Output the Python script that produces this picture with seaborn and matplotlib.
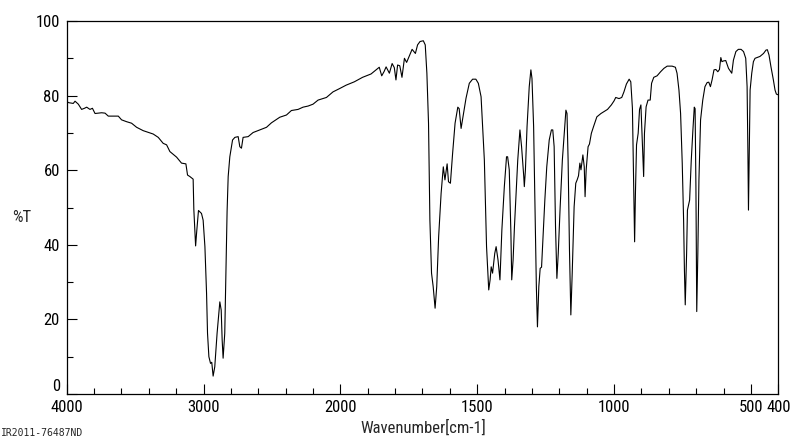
import numpy as np
import pandas as pd
import matplotlib
matplotlib.use("Agg")
import matplotlib.pyplot as plt
from matplotlib import font_manager as fm
import seaborn as sns

wavenumber = [
    4000, 3985, 3952, 3939, 3915, 3891, 3870, 3854, 3830, 3812, 3793, 3765, 3745, 3720,
    3696, 3623, 3599, 3562, 3526, 3489, 3441, 3368, 3331, 3295, 3270, 3246, 3197, 3161,
    3129, 3117, 3100, 3076, 3071, 3058, 3051, 3037, 3015, 3003, 2990, 2978, 2971, 2961,
    2949, 2940, 2930, 2918, 2901, 2881, 2871, 2864, 2857, 2845, 2837, 2828, 2820, 2808,
    2788, 2771, 2747, 2735, 2723, 2711, 2674, 2638, 2589, 2540, 2504, 2443, 2394, 2358,
    2309, 2273, 2236, 2200, 2163, 2102, 2054, 2005, 1979, 1949, 1919, 1888, 1870, 1858,
    1849, 1840, 1833, 1821, 1811, 1803, 1797, 1791, 1783, 1775, 1766, 1758, 1738, 1726,
    1718, 1709, 1697, 1690, 1684, 1678, 1673, 1667, 1661, 1654, 1648, 1641, 1632, 1624,
    1618, 1610, 1605, 1598, 1590, 1581, 1571, 1566, 1559, 1551, 1541, 1529, 1517, 1505,
    1496, 1486, 1474, 1466, 1458, 1453, 1449, 1444, 1436, 1431, 1424, 1417, 1410, 1401,
    1393, 1389, 1383, 1377, 1374, 1369, 1364, 1358, 1352, 1344, 1338, 1330, 1328, 1324,
    1318, 1310, 1304, 1300, 1294, 1289, 1284, 1280, 1275, 1270, 1265, 1259, 1253, 1246,
    1237, 1229, 1224, 1219, 1214, 1209, 1204, 1197, 1189, 1182, 1176, 1172, 1168, 1163,
    1158, 1153, 1146, 1140, 1135, 1130, 1125, 1121, 1114, 1109, 1106, 1102, 1095, 1090,
    1083, 1075, 1063, 1048, 1024, 1010, 1000, 994, 982, 972, 964, 955, 945, 939,
    933, 928, 925, 922, 918, 912, 907, 902, 897, 892, 889, 883, 876, 868,
    863, 855, 843, 830, 818, 806, 788, 776, 770, 763, 757, 751, 746, 743,
    740, 735, 732, 724, 718, 712, 707, 704, 701, 698, 694, 690, 684, 676,
    668, 660, 654, 648, 642, 635, 628, 621, 615, 610, 606, 600, 592, 582,
    570, 564, 555, 546, 536, 527, 519, 514, 511, 509, 506, 503, 497, 491,
    485, 467, 454, 445, 440, 434, 427, 418, 412, 407, 400,
]
transmittance = [
    78.4, 78.1, 77.9, 78.5, 77.7, 76.3, 76.6, 76.9, 76.3, 76.6, 75.2, 75.3, 75.4, 75.3,
    74.5, 74.5, 73.5, 73.0, 72.6, 71.5, 70.6, 69.7, 68.8, 67.2, 66.8, 65.0, 63.5, 61.9,
    61.7, 58.7, 58.3, 57.6, 49.5, 39.7, 43.1, 49.2, 48.4, 46.6, 39.5, 27.0, 16.3, 10.0,
    8.2, 8.5, 4.8, 7.3, 16.3, 24.7, 22.5, 14.5, 9.6, 16.3, 32.4, 48.9, 58.3, 63.6,
    68.1, 68.8, 69.0, 66.3, 65.9, 68.8, 69.0, 70.1, 70.8, 71.5, 72.7, 74.2, 74.8, 76.0,
    76.3, 76.9, 77.2, 77.7, 78.8, 79.5, 81.0, 81.9, 82.8, 83.7, 84.9, 85.8, 86.9, 87.6,
    85.3, 86.5, 87.7, 86.0, 88.6, 87.5, 84.2, 88.2, 88.0, 84.9, 90.0, 88.9, 92.4, 91.3,
    93.6, 94.5, 94.7, 93.6, 86.0, 72.6, 46.6, 32.4, 28.8, 23.0, 28.8, 42.2, 53.8, 60.9,
    57.4, 61.7, 56.9, 56.5, 64.5, 72.6, 76.9, 76.5, 71.2, 74.8, 79.3, 83.3, 84.4, 84.4,
    83.3, 79.7, 62.7, 39.5, 27.9, 30.6, 34.1, 32.4, 37.7, 39.5, 35.9, 30.6, 44.0, 55.6,
    63.6, 63.6, 60.1, 43.1, 30.6, 35.9, 44.9, 53.8, 62.7, 70.8, 66.3, 58.3, 55.6, 60.0,
    71.7, 82.4, 86.9, 84.6, 71.7, 50.2, 28.8, 18.0, 28.8, 33.7, 34.0, 43.1, 52.0, 60.9,
    68.1, 70.8, 70.8, 66.3, 44.9, 31.0, 37.7, 50.2, 62.7, 69.9, 76.1, 75.2, 62.7, 38.6,
    21.2, 32.4, 50.2, 56.5, 57.4, 58.5, 61.9, 60.1, 64.1, 60.9, 52.9, 60.1, 66.3, 67.0,
    69.9, 71.7, 74.3, 75.2, 76.3, 77.5, 78.6, 79.5, 79.2, 79.5, 81.0, 83.1, 84.4, 83.7,
    76.6, 53.8, 40.8, 53.8, 66.8, 69.9, 76.3, 77.5, 68.1, 58.3, 69.9, 77.0, 78.8, 78.8,
    83.3, 84.9, 85.3, 86.4, 87.3, 87.9, 87.9, 87.6, 86.0, 81.5, 75.2, 61.9, 46.6, 33.2,
    23.9, 37.7, 49.3, 52.0, 62.7, 70.8, 76.9, 76.5, 55.6, 22.1, 37.7, 57.4, 73.5, 78.8,
    82.4, 83.5, 83.6, 82.4, 84.2, 86.9, 87.0, 86.4, 87.0, 90.2, 89.1, 89.3, 89.4, 87.3,
    86.0, 89.5, 91.8, 92.4, 92.4, 91.8, 90.0, 82.4, 64.5, 49.3, 64.5, 81.5, 86.0, 89.1,
    90.0, 90.5, 91.3, 92.2, 92.3, 90.9, 87.8, 84.2, 81.5, 80.4, 80.2,
]
x_major = [4000, 3000, 2000, 1500, 1000, 500, 400]
x_major_labels = ["4000", "3000", "2000", "1500", "1000", "500", "400"]
y_major = [0, 20, 40, 60, 80, 100]
y_minor = [10, 30, 50, 70, 90]

df = pd.DataFrame({"wn": wavenumber, "T": transmittance})

sns.set_style("white")
plt.rcParams["font.family"] = ["DejaVu Sans"]

# choose a narrow (condensed) sans font if one is installed
narrow_file = None
prefs = ["Liberation Sans Narrow", "DejaVu Sans Condensed", "Noto Sans Condensed",
         "Roboto Condensed", "Open Sans Condensed"]
fonts = fm.fontManager.ttflist
for p in prefs:
    for f in fonts:
        if f.name == p and f.style == "normal" and f.weight in (400, "normal", "regular"):
            narrow_file = f.fname
            break
    if narrow_file:
        break
if narrow_file is None:
    for f in fonts:
        if (str(f.stretch) in ("condensed", "semi-condensed", "extra-condensed")
                and f.style == "normal" and f.weight in (400, "normal", "regular")
                and "Mono" not in f.name and "Serif" not in f.name):
            narrow_file = f.fname
            break

if narrow_file is not None:
    lab_fp = fm.FontProperties(fname=narrow_file, size=12)
else:
    lab_fp = fm.FontProperties(family="DejaVu Sans", size=10)


def fwd(w):
    w = np.asarray(w, dtype=float)
    return np.where(w <= 2000, w - 400.0, 1600.0 + (w - 2000.0) / 2.0)


def inv(u):
    u = np.asarray(u, dtype=float)
    return np.where(u <= 1600, u + 400.0, 2000.0 + 2.0 * (u - 1600.0))


fig = plt.figure(figsize=(8, 4.41), dpi=100)
ax = fig.add_axes([66.7 / 800, 47 / 441, (778.3 - 66.7) / 800, 373 / 441])

sns.lineplot(data=df, x="wn", y="T", ax=ax, color="black", linewidth=0.8,
             sort=False, estimator=None)

ax.set_xscale("function", functions=(fwd, inv))
ax.set_xlim(4000, 400)
ax.set_ylim(0, 100)

x_minor = list(range(3800, 2000, -200)) + [w for w in range(1900, 500, -100) if w not in (1500, 1000)]
ax.set_xticks(x_major)
ax.set_xticklabels(x_major_labels)
ax.set_xticks(x_minor, minor=True)
ax.set_xticklabels([], minor=True)
ax.set_yticks(y_major)
ax.set_yticks(y_minor, minor=True)

ax.tick_params(axis="both", which="major", direction="in", length=7, width=0.8,
               color="black", labelcolor="black")
ax.tick_params(axis="both", which="minor", direction="in", length=4, width=0.8,
               color="black")
ax.tick_params(axis="x", which="major", pad=4)
ax.tick_params(axis="y", which="major", pad=5)
ax.tick_params(bottom=True, left=True, top=False, right=False)
ax.tick_params(axis="x", which="minor", bottom=True)
ax.tick_params(axis="y", which="minor", left=True)
for lbl in ax.get_xticklabels() + ax.get_yticklabels():
    lbl.set_fontproperties(lab_fp)
# lift the "0" label so it clears the x tick labels, as in the reference
ax.get_yticklabels()[0].set_verticalalignment("bottom")

for s in ax.spines.values():
    s.set_visible(True)
    s.set_color("black")
    s.set_linewidth(0.9)

ax.set_xlabel("")
ax.set_ylabel("")
ax.grid(False)

fig.text(22 / 800, 1 - 217 / 441, "%T", ha="center", va="center",
         fontproperties=lab_fp)
fig.text(423 / 800, 1 - 428 / 441, "Wavenumber[cm-1]", ha="center", va="center",
         fontproperties=lab_fp)
fig.text(1 / 800, 1 - 433 / 441, "IR2011-76487ND", ha="left", va="center",
         fontsize=7, family=["DejaVu Sans Mono"])

fig.savefig("out.png", dpi=100, facecolor="white")
